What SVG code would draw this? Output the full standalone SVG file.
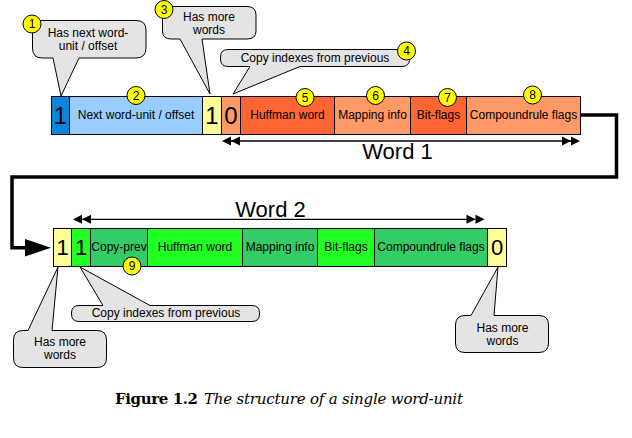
<svg xmlns="http://www.w3.org/2000/svg" width="632" height="438" viewBox="0 0 632 438">
<defs>
<style>
.cell{stroke:#000;stroke-width:1}
.t{font-family:"Liberation Sans",Arial,sans-serif;font-size:12px;fill:#000;text-anchor:middle}
.big{font-family:"Liberation Sans",Arial,sans-serif;font-size:24px;fill:#000;text-anchor:middle}
.big2{font-family:"Liberation Sans",Arial,sans-serif;font-size:22px;fill:#000;text-anchor:middle}
.word{font-family:"Liberation Sans",Arial,sans-serif;font-size:22px;fill:#000;text-anchor:middle}
.bub{fill:#e4e4e4;stroke:#000;stroke-width:1;stroke-linejoin:round}
.badge{fill:#ffff00;stroke:#000;stroke-width:1}
.lb{fill:#99ccff}.bl{fill:#0a86dc}.ly{fill:#ffff99}.lo{fill:#ff9966}.do{fill:#ff6633}.bg{fill:#22ff22}.dg{fill:#33cc66}
.thick{fill:none;stroke:#000;stroke-width:3.5;stroke-linejoin:miter}
.thin{fill:none;stroke:#000;stroke-width:1.3}
.ah{fill:#000}
.cap{font-family:"DejaVu Serif","Liberation Serif",serif;font-size:15px;fill:#000}
</style>
</defs>
<rect width="632" height="438" fill="#fff"/>

<g id="connectors">
<path class="thick" d="M580.5,115 H616.5 V177 H12 V247.7 H30"/>
<polygon class="ah" points="25,239 51,247.7 25,256.5"/>
<line class="thin" x1="231" y1="141" x2="571" y2="141"/>
<polygon class="ah" points="222,141 231,136.5 231,145.5"/>
<polygon class="ah" points="231,141 240,136.5 240,145.5"/>
<polygon class="ah" points="580,141 571,136.5 571,145.5"/>
<polygon class="ah" points="571,141 562,136.5 562,145.5"/>
<line class="thin" x1="82" y1="219.3" x2="475" y2="219.3"/>
<polygon class="ah" points="73,219.3 82,214.8 82,223.8"/>
<polygon class="ah" points="82,219.3 91,214.8 91,223.8"/>
<polygon class="ah" points="484.5,219.3 475.5,214.8 475.5,223.8"/>
<polygon class="ah" points="475.5,219.3 466.5,214.8 466.5,223.8"/>
</g>

<g id="word1-label"><text class="word" x="397.5" y="158.5">Word 1</text></g>
<g id="word2-label"><text class="word" x="270.5" y="216.7">Word 2</text></g>

<g id="w1-next-flag"><rect class="cell bl" x="51.5" y="96.5" width="18" height="38"/><text class="big" x="60.5" y="124">1</text></g>
<g id="w1-offset"><rect class="cell lb" x="69.5" y="96.5" width="133" height="38"/><text class="t" x="136" y="119">Next word-unit / offset</text></g>
<g id="w1-more"><rect class="cell ly" x="202.5" y="96.5" width="19" height="38"/><text class="big" x="212" y="124">1</text></g>
<g id="w1-copy"><rect class="cell lo" x="221.5" y="96.5" width="19" height="38"/><text class="big" x="231" y="124">0</text></g>
<g id="w1-huffman"><rect class="cell do" x="240.5" y="96.5" width="94" height="38"/><text class="t" x="287.5" y="119">Huffman word</text></g>
<g id="w1-mapping"><rect class="cell lo" x="334.5" y="96.5" width="76" height="38"/><text class="t" x="372.5" y="119">Mapping info</text></g>
<g id="w1-bitflags"><rect class="cell do" x="410.5" y="96.5" width="56" height="38"/><text class="t" x="438.5" y="119">Bit-flags</text></g>
<g id="w1-compound"><rect class="cell lo" x="466.5" y="96.5" width="114" height="38"/><text class="t" x="523.5" y="119">Compoundrule flags</text></g>

<g id="w2-more"><rect class="cell ly" x="53.5" y="228.5" width="18" height="38"/><text class="big2" x="62.5" y="255">1</text></g>
<g id="w2-copyflag"><rect class="cell bg" x="71.5" y="228.5" width="19" height="38"/><text class="big2" x="81" y="255">1</text></g>
<g id="w2-copyprev"><rect class="cell dg" x="90.5" y="228.5" width="57" height="38"/><text class="t" x="119" y="250.5">Copy-prev</text></g>
<g id="w2-huffman"><rect class="cell bg" x="147.5" y="228.5" width="95" height="38"/><text class="t" x="195" y="250.5">Huffman word</text></g>
<g id="w2-mapping"><rect class="cell dg" x="242.5" y="228.5" width="75" height="38"/><text class="t" x="280" y="250.5">Mapping info</text></g>
<g id="w2-bitflags"><rect class="cell bg" x="317.5" y="228.5" width="57" height="38"/><text class="t" x="346" y="250.5">Bit-flags</text></g>
<g id="w2-compound"><rect class="cell dg" x="374.5" y="228.5" width="113" height="38"/><text class="t" x="431" y="250.5">Compoundrule flags</text></g>
<g id="w2-end"><rect class="cell ly" x="487.5" y="228.5" width="19" height="38"/><text class="big2" x="497" y="255">0</text></g>

<g id="callout-next">
<path class="bub" d="M42,20.5 H136 Q146,20.5 146,30 V48 Q146,58 136,58 H79 L61,96 L53,58 H42 Q32.5,58 32.5,48 V30 Q32.5,20.5 42,20.5 Z"/>
<text class="t" x="88" y="37">Has next word-</text>
<text class="t" x="88" y="49.5">unit / offset</text>
</g>
<g id="callout-more1">
<path class="bub" d="M171,6.5 H247 Q256,6.5 256,15 V31 Q256,39 247,39 H202 L210,94 L180,39 H171 Q162.5,39 162.5,31 V15 Q162.5,6.5 171,6.5 Z"/>
<text class="t" x="209" y="21">Has more</text>
<text class="t" x="209" y="34">words</text>
</g>
<g id="callout-copy1">
<path class="bub" d="M228,49.5 H402 Q409.5,49.5 409.5,57 V59 Q409.5,66.5 402,66.5 H300 L233,94 L250,66.5 H228 Q220.5,66.5 220.5,59 V57 Q220.5,49.5 228,49.5 Z"/>
<text class="t" x="315" y="62">Copy indexes from previous</text>
</g>
<g id="callout-more2">
<path class="bub" d="M23,330.5 H28 L58,267 L52,330.5 H97 Q106.5,330.5 106.5,340 V358 Q106.5,367.5 97,367.5 H23 Q13.5,367.5 13.5,358 V340 Q13.5,330.5 23,330.5 Z"/>
<text class="t" x="60" y="346">Has more</text>
<text class="t" x="60" y="359">words</text>
</g>
<g id="callout-copy2">
<path class="bub" d="M79,305.5 H103 L80,267 L150,305.5 H252 Q259.5,305.5 259.5,313 V314 Q259.5,321.5 252,321.5 H79 Q71.5,321.5 71.5,314 V313 Q71.5,305.5 79,305.5 Z"/>
<text class="t" x="166" y="317">Copy indexes from previous</text>
</g>
<g id="callout-more3">
<path class="bub" d="M465,315.5 H471 L498,267 L494,315.5 H539 Q548.5,315.5 548.5,325 V343 Q548.5,352.5 539,352.5 H465 Q455.5,352.5 455.5,343 V325 Q455.5,315.5 465,315.5 Z"/>
<text class="t" x="502.5" y="331.5">Has more</text>
<text class="t" x="502.5" y="344.5">words</text>
</g>

<g id="badge-1"><circle class="badge" cx="32" cy="24" r="9"/><text class="t" x="32" y="28.3">1</text></g>
<g id="badge-2"><circle class="badge" cx="136" cy="95.5" r="9"/><text class="t" x="136" y="99.8">2</text></g>
<g id="badge-3"><circle class="badge" cx="164" cy="9.5" r="9"/><text class="t" x="164" y="13.8">3</text></g>
<g id="badge-4"><circle class="badge" cx="406.5" cy="51" r="9"/><text class="t" x="406.5" y="55.3">4</text></g>
<g id="badge-5"><circle class="badge" cx="305" cy="97.5" r="9"/><text class="t" x="305" y="101.8">5</text></g>
<g id="badge-6"><circle class="badge" cx="375.5" cy="95.5" r="9"/><text class="t" x="375.5" y="99.8">6</text></g>
<g id="badge-7"><circle class="badge" cx="447.5" cy="97.5" r="9"/><text class="t" x="447.5" y="101.8">7</text></g>
<g id="badge-8"><circle class="badge" cx="532.5" cy="95" r="9"/><text class="t" x="532.5" y="99.3">8</text></g>
<g id="badge-9"><circle class="badge" cx="132" cy="266" r="9"/><text class="t" x="132" y="270.3">9</text></g>

<g id="caption">
<text class="cap" x="115" y="404" font-weight="bold" textLength="83">Figure 1.2</text>
<text class="cap" x="204" y="404" font-style="italic" textLength="259">The structure of a single word-unit</text>
</g>
</svg>
